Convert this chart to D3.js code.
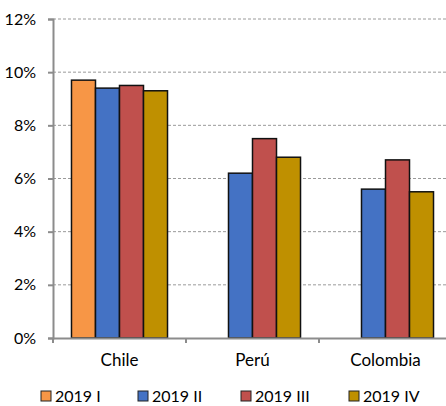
<!DOCTYPE html>
<html>
<head>
<meta charset="utf-8">
<script src="https://cdn.jsdelivr.net/npm/d3@7"></script>
<style>
  html, body { margin: 0; padding: 0; background: #fff; }
  svg { display: block; font-family: Lato, "Open Sans", sans-serif; }
</style>
</head>
<body>
<svg id="chart" width="446" height="406"></svg>
<script>
// Quarterly rates by country (%); null = no data for that quarter
const countries = ["Chile", "Perú", "Colombia"];
const seriesNames = ["2019 I", "2019 II", "2019 III", "2019 IV"];
const q1 = [9.7, null, null];
const q2 = [9.4, 6.2, 5.6];
const q3 = [9.5, 7.5, 6.7];
const q4 = [9.3, 6.8, 5.5];
const yTicks = [0, 2, 4, 6, 8, 10, 12];
const colors = ["#F79646", "#4472C4", "#C0504D", "#BF9000"];

const seriesValues = [q1, q2, q3, q4];

const svg = d3.select("#chart");
const plotLeft = 53, plotRight = 452, plotTop = 19, plotBottom = 338;
const fontSize = 16;

const x = d3.scaleBand().domain(countries).range([plotLeft, plotRight]).paddingInner(0).paddingOuter(0);
const inner = d3.scaleBand().domain(seriesNames).range([0, x.bandwidth()]).paddingInner(0).paddingOuter(0.77);
const y = d3.scaleLinear().domain([0, 12]).range([plotBottom, plotTop]);

// dashed horizontal gridlines
svg.append("g")
  .selectAll("line")
  .data(yTicks.filter(t => t > 0))
  .join("line")
  .attr("x1", plotLeft).attr("x2", 446)
  .attr("y1", d => y(d)).attr("y2", d => y(d))
  .attr("stroke", "#9a9a9a")
  .attr("stroke-width", 1)
  .attr("stroke-dasharray", "3,2");

// bars
const rows = [];
countries.forEach((c, i) => {
  seriesNames.forEach((s, j) => {
    const v = seriesValues[j][i];
    if (v != null) rows.push({ c, s, v, color: colors[j] });
  });
});

svg.append("g")
  .selectAll("rect")
  .data(rows)
  .join("rect")
  .attr("x", d => x(d.c) + inner(d.s))
  .attr("width", inner.bandwidth())
  .attr("y", d => y(d.v))
  .attr("height", d => y(0) - y(d.v))
  .attr("fill", d => d.color)
  .attr("stroke", "#111")
  .attr("stroke-width", 1.5);

// y axis
const yAxis = svg.append("g")
  .attr("transform", `translate(${plotLeft},0)`)
  .call(d3.axisLeft(y).tickValues(yTicks).tickFormat(d => d + "%").tickSize(5).tickPadding(12));
yAxis.select(".domain").attr("stroke", "#8c8c8c").attr("stroke-width", 2);
yAxis.selectAll(".tick line").attr("stroke", "#8c8c8c").attr("stroke-width", 2);
yAxis.selectAll("text").attr("font-size", fontSize).attr("fill", "#000")
  .attr("font-family", "Lato, 'Open Sans', sans-serif");

// x axis
const xAxis = svg.append("g")
  .attr("transform", `translate(0,${plotBottom})`)
  .call(d3.axisBottom(x).tickSize(0).tickPadding(16));
xAxis.select(".domain").attr("stroke", "#8c8c8c").attr("stroke-width", 2);
xAxis.selectAll("text").attr("font-size", 17).attr("fill", "#000")
  .attr("font-family", "Lato, 'Open Sans', sans-serif");

// category boundary ticks
svg.append("g")
  .selectAll("line")
  .data(countries)
  .join("line")
  .attr("x1", d => x(d)).attr("x2", d => x(d))
  .attr("y1", plotBottom).attr("y2", plotBottom + 5)
  .attr("stroke", "#8c8c8c")
  .attr("stroke-width", 2);

// legend
const legendX = [41, 138, 241, 349];
const legend = svg.append("g")
  .selectAll("g")
  .data(seriesNames)
  .join("g")
  .attr("transform", (d, i) => `translate(${legendX[i]},391)`);
legend.append("rect")
  .attr("width", 10).attr("height", 10)
  .attr("fill", (d, i) => colors[i])
  .attr("stroke", "#222").attr("stroke-width", 1);
legend.append("text")
  .attr("x", 14).attr("y", 11)
  .attr("font-size", fontSize)
  .text(d => d);
</script>
</body>
</html>
